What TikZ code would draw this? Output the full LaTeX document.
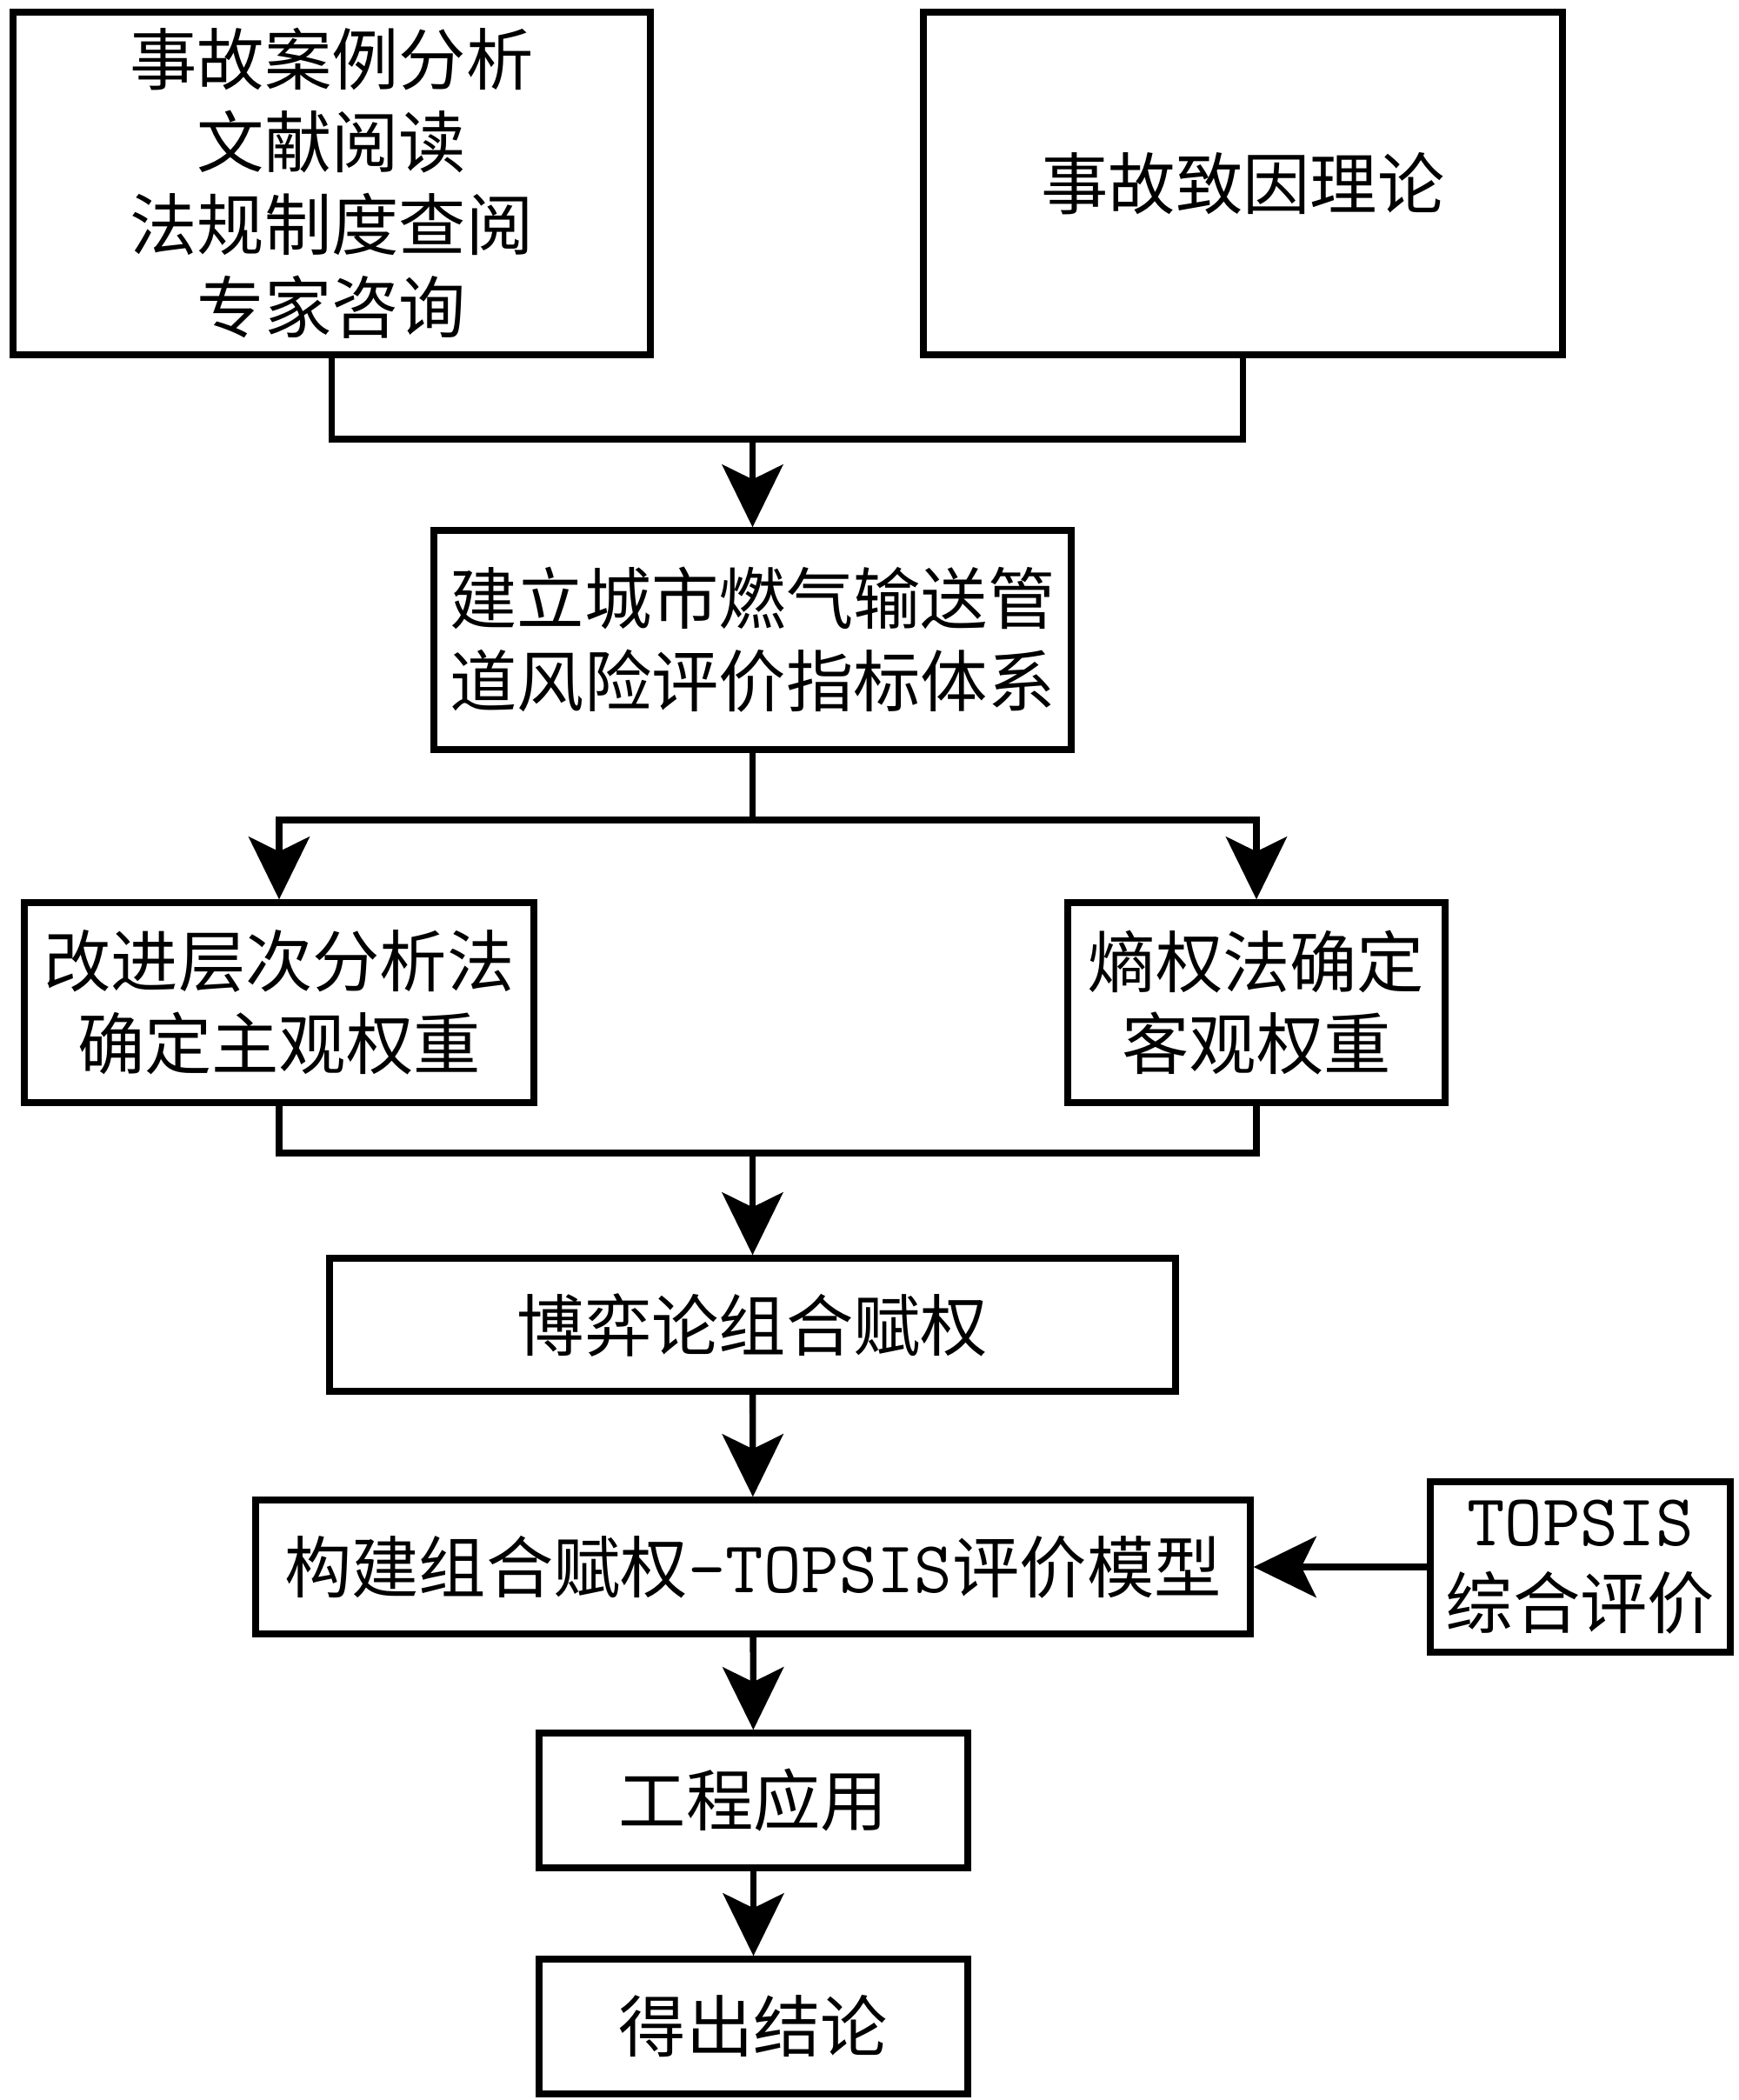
\documentclass[tikz,border=0pt]{standalone}
\usepackage{fontspec}
\setmainfont{Noto Sans CJK SC}
\newfontfamily\latinmono{Latin Modern Mono}
\newcommand\monotext[1]{{\fontsize{24pt}{27pt}\latinmono #1}}
\usetikzlibrary{arrows.meta}

\begin{document}
\begin{tikzpicture}[
		box/.style={draw, line width=2.1pt, align=center, inner sep=0pt,
			font=\fontsize{22pt}{27pt}\selectfont},
		line/.style={line width=2.1pt},
		arr/.style={line width=2.1pt, -{Stealth[length=7.2mm, width=7mm, inset=1.7mm]}}
	]
		\useasboundingbox (0,0) rectangle (20,-24.15);

		% Sources
		\node[box, minimum width=7.33cm, minimum height=3.94cm] (src) at (3.815,-2.11)
			{事故案例分析\\文献阅读\\法规制度查阅\\专家咨询};
		\node[box, minimum width=7.35cm, minimum height=3.94cm] (theory) at (14.295,-2.11)
			{事故致因理论};

		% Index system
		\node[box, minimum width=7.33cm, minimum height=2.52cm] (index) at (8.655,-7.36)
			{建立城市燃气输送管\\道风险评价指标体系};

		% Weights
		\node[box, minimum width=5.86cm, minimum height=2.30cm] (ahp) at (3.21,-11.53)
			{改进层次分析法\\确定主观权重};
		\node[box, minimum width=4.34cm, minimum height=2.30cm] (ewm) at (14.45,-11.53)
			{熵权法确定\\客观权重};
		\node[box, minimum width=9.73cm, minimum height=1.53cm] (game) at (8.655,-15.235)
			{博弈论组合赋权};

		% Model
		\node[box, minimum width=11.44cm, minimum height=1.54cm] (model) at (8.66,-18.02)
			{构建组合赋权\monotext{-TOPSIS}评价模型};
		\node[box, minimum width=3.45cm, minimum height=1.96cm] (topsis) at (18.175,-18.02)
			{\monotext{TOPSIS}\\综合评价};

		% Application
		\node[box, minimum width=4.93cm, minimum height=1.55cm] (apply) at (8.665,-20.705)
			{工程应用};
		\node[box, minimum width=4.93cm, minimum height=1.55cm] (concl) at (8.665,-23.305)
			{得出结论};

		% Connectors
		\coordinate (j1) at (8.655,-5.05);
		\coordinate (j2) at (8.655,-9.43);
		\coordinate (j3) at (8.655,-13.26);
		\draw[line] (src.south) |- (j1) -| (theory.south);
		\draw[arr] (j1) -- (index.north);
		\draw[line] (index.south) -- (j2);
		\draw[arr] (j2) -| (ahp.north);
		\draw[arr] (j2) -| (ewm.north);
		\draw[line] (ahp.south) |- (j3) -| (ewm.south);
		\draw[arr] (j3) -- (game.north);
		\draw[arr] (game) -- (model);
		\draw[arr] (topsis) -- (model);
		\draw[arr] (model) -- (apply);
		\draw[arr] (apply) -- (concl);
	\end{tikzpicture}
\end{document}
